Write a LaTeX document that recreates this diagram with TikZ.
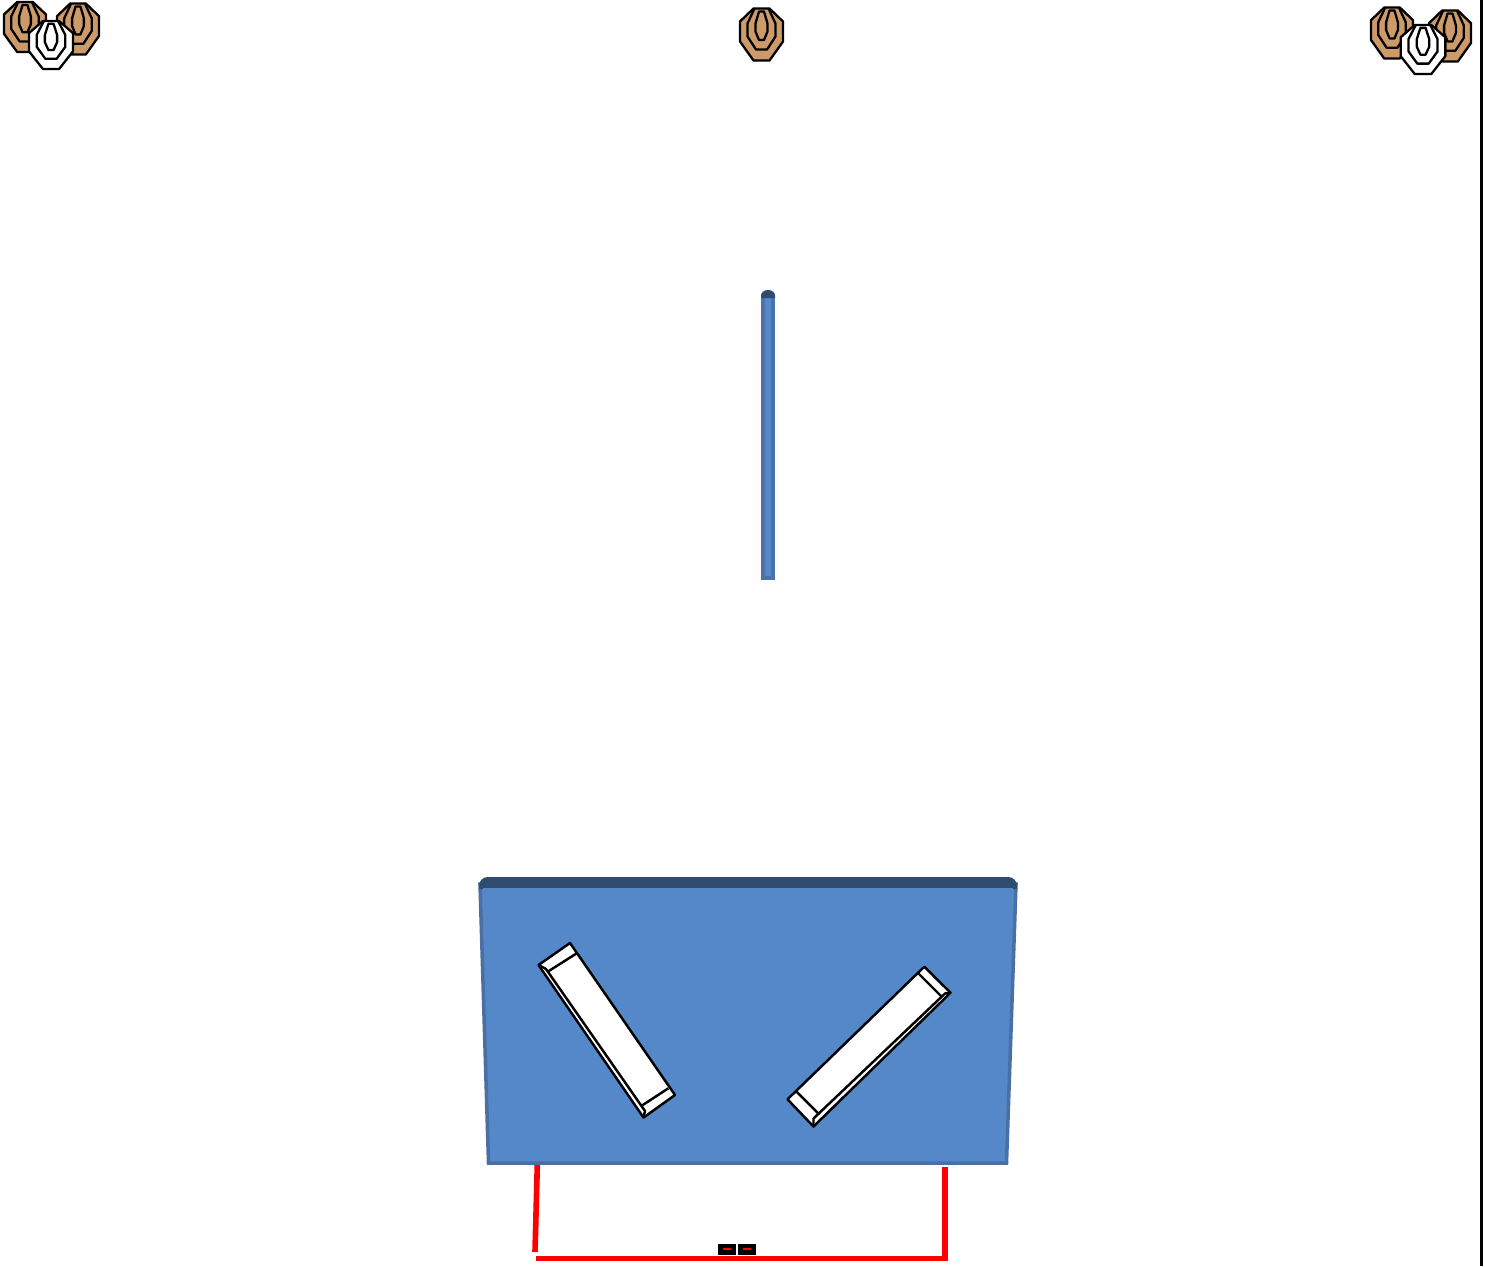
\documentclass[tikz,border=0pt]{standalone}
\definecolor{targetTan}{HTML}{CD9B69}
\definecolor{boardBlue}{HTML}{5588C8}
\definecolor{boardEdge}{HTML}{4A6FA3}
\definecolor{boardTop}{HTML}{2F4B70}
\definecolor{wireRed}{HTML}{FF0000}
\tikzset{
    target ring/.style={draw=black, line width=0.65pt, line join=round},
    mirror line/.style={draw=black, line width=0.7pt, line join=round},
    wire/.style={draw=wireRed, line width=1.6pt},
    pics/shoot target/.style={code={
        \draw[target ring, fill=#1] (-8,-26) -- (8,-26) -- (21.5,-13) -- (21.5,7) -- (8,26) -- (-8,26) -- (-21.5,7) -- (-21.5,-13) -- cycle;
        \draw[target ring] (-7,-26) -- (-14,-11) -- (-14,2) -- (-5.5,15) -- (5.5,15) -- (14,2) -- (14,-11) -- (7,-26);
        \draw[target ring] (-2.5,-23) -- (2.5,-23) -- (6,-11) -- (6,-3) -- (2.5,5.5) -- (-2.5,5.5) -- (-6,-3) -- (-6,-11) -- cycle;
    }}
}
\begin{document}
\begin{tikzpicture}[x=0.01cm, y=-0.01cm]
    \useasboundingbox (0,0) rectangle (1485,1266);

    % targets along the top
    \pic[xscale=0.98, yscale=0.96] at (25,27) {shoot target=targetTan};
    \pic[xscale=0.98, yscale=0.98] at (78,29) {shoot target=targetTan};
    \pic[xscale=1.02, yscale=0.92] at (51,45) {shoot target=white};
    \pic at (761.5,34.5) {shoot target=targetTan};
    \pic[xscale=0.98, yscale=0.98] at (1392,33) {shoot target=targetTan};
    \pic[xscale=0.98, yscale=0.98] at (1450,36) {shoot target=targetTan};
    \pic[xscale=1.04, yscale=0.94] at (1423,49.5) {shoot target=white};

    % right border
    \draw[line width=0.85pt] (1481.5,0) -- (1481.5,1266);

    % narrow board seen edge on
    \fill[boardEdge!85!boardBlue] (761,296) rectangle (775,580);
    \fill[boardBlue] (765,298) rectangle (771,576);
    \fill[boardTop] (761,298) -- (761,295.5) arc (180:360:7 and 5.5) -- (775,298) -- cycle;

    % table
    \coordinate (TL) at (480,884);
    \coordinate (TR) at (1016,884);
    \coordinate (BR) at (1006.5,1163);
    \coordinate (BL) at (488.5,1163);
    \draw[fill=boardBlue, draw=boardEdge, line width=1pt] (TL) -- (TR) -- (BR) -- (BL) -- cycle;
    \fill[boardTop] (479,889) [rounded corners=2.5pt] -- (479,877) -- (1017,877) [sharp corners] -- (1017,889) -- cycle;
    \fill[boardBlue] (483,888) rectangle (1013,895);

    % left mirror
    \coordinate (LA) at (570,943);
    \coordinate (LB) at (675,1095);
    \coordinate (LC) at (643.5,1117.5);
    \coordinate (LD) at (538.5,965);
    \draw[mirror line, fill=white] (LA) -- (LB) -- (LC) -- (LD) -- cycle;
    \draw[mirror line] (576.7,953.3) -- (548,971.5);
    \draw[mirror line] (668.3,1088.3) -- (642,1105.5);
    \draw[mirror line] (LD) -- (546,969) -- (645,1111) -- (LC);

    % right mirror
    \coordinate (RA) at (924.3,966.7);
    \coordinate (RB) at (950.5,992.7);
    \coordinate (RC) at (813.5,1126.5);
    \coordinate (RD) at (787.5,1099.3);
    \draw[mirror line, fill=white] (RA) -- (RB) -- (RC) -- (RD) -- cycle;
    \draw[mirror line] (918.3,973.3) -- (942,997);
    \draw[mirror line] (796.7,1091.7) -- (819.3,1114.3);
    \draw[mirror line] (RB) -- (945,993.5) -- (813.5,1118.5) -- (RC);

    % wiring
    \coordinate (WL) at (537.3,1165);
    \coordinate (WE) at (535,1252);
    \coordinate (WS) at (535.5,1258.5);
    \coordinate (WC) at (945,1258.5);
    \coordinate (WR) at (945,1167);
    \draw[wire] (WL) -- (WE);
    \draw[wire, line join=miter] (WS) -- (WC) -- (WR);

    % switches
    \foreach \bx in {717.5,737.5} {
        \fill[black] (\bx,1243.5) rectangle +(18.3,11.5);
        \fill[wireRed] (\bx+5,1248) rectangle +(8,2.4);
    }
\end{tikzpicture}
\end{document}
